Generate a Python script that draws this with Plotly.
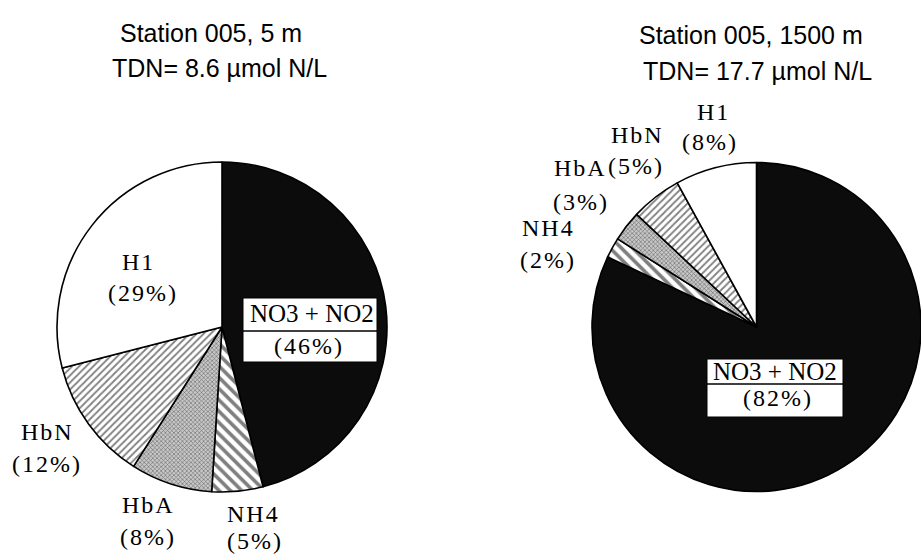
import plotly.graph_objects as go

W, H = 921, 556

categories = ["NO3 + NO2", "NH4", "HbA", "HbN", "H1"]
values_5m = [46, 5, 8, 12, 29]
values_1500m = [82, 2, 3, 5, 8]

titles_left = ["Station 005, 5 m", "TDN= 8.6 \u00b5mol N/L"]
titles_right = ["Station 005, 1500 m", "TDN= 17.7 \u00b5mol N/L"]

slice_colors = ["#0c0c0c", "white", "#c8c8c8", "white", "white"]
slice_patterns = ["", "\\", "x", "/", ""]
pattern_sizes = [6, 8, 3, 5, 6]
pattern_solidity = [0.3, 0.45, 0.35, 0.35, 0.3]

HS = "\u200a"  # hair space for the letter-spaced typewriter look


def spaced(s):
    return HS.join(list(s))


def px(x):
    return x / W


def py(y):
    return 1 - y / H


fig = go.Figure()

for vals, dom in [
    (values_5m, dict(x=[px(57), px(387)], y=[py(492), py(162)])),
    (values_1500m, dict(x=[px(592), 1.0], y=[py(492), py(162)])),
]:
    fig.add_trace(go.Pie(
        labels=categories,
        values=vals,
        sort=False,
        direction="clockwise",
        rotation=0,
        textinfo="none",
        hoverinfo="label+percent",
        showlegend=False,
        domain=dom,
        marker=dict(
            colors=slice_colors,
            line=dict(color="black", width=1.6),
            pattern=dict(
                shape=slice_patterns,
                fgcolor="black",
                size=pattern_sizes,
                solidity=pattern_solidity,
                fillmode="overlay",
            ),
        ),
    ))

sans = dict(family="Liberation Sans, Arial, sans-serif", size=25, color="black")
serif = dict(family="Liberation Serif, Times New Roman, serif", size=24, color="black")
serif_box = dict(family="Liberation Serif, Times New Roman, serif", size=25, color="black")

annotations = []


def add_text(text, x, y, font):
    annotations.append(dict(
        text=text, x=px(x), y=py(y), xref="paper", yref="paper",
        showarrow=False, xanchor="center", yanchor="middle", font=font,
    ))


# titles
add_text(titles_left[0], 211, 33, sans)
add_text(titles_left[1], 219, 68, sans)
add_text(titles_right[0], 751, 35, sans)
add_text(titles_right[1], 757, 71, sans)

# left pie labels
add_text(spaced("H1"), 137, 262, serif)
add_text(spaced("(29%)"), 142, 293, serif)
add_text(spaced("HbN"), 46, 432, serif)
add_text(spaced("(12%)"), 46, 464, serif)
add_text(spaced("HbA"), 147, 505, serif)
add_text(spaced("(8%)"), 147, 537, serif)
add_text(spaced("NH4"), 252, 514, serif)
add_text(spaced("(5%)"), 254, 541, serif)
add_text("NO3 + NO2", 312, 313, serif_box)
add_text(spaced("(46%)"), 308, 346, serif)

# right pie labels
add_text(spaced("H1"), 712, 112, serif)
add_text(spaced("(8%)"), 709, 142, serif)
add_text(spaced("HbN"), 636, 135, serif)
add_text(spaced("(5%)"), 635, 166, serif)
add_text(spaced("HbA"), 579, 168, serif)
add_text(spaced("(3%)"), 580, 202, serif)
add_text(spaced("NH4"), 547, 228, serif)
add_text(spaced("(2%)"), 547, 260, serif)
add_text("NO3 + NO2", 775, 371, serif_box)
add_text(spaced("(82%)"), 777, 398, serif)

shapes = []
for (x0, x1, y0, y1, ym) in [(243, 377, 298, 362, 331), (707, 843, 359, 417, 384)]:
    shapes.append(dict(type="rect", xref="paper", yref="paper",
                       x0=px(x0), x1=px(x1), y0=py(y1), y1=py(y0),
                       fillcolor="white", line=dict(color="black", width=1), layer="above"))
    shapes.append(dict(type="line", xref="paper", yref="paper",
                       x0=px(x0), x1=px(x1), y0=py(ym), y1=py(ym),
                       line=dict(color="black", width=1.5), layer="above"))

fig.update_layout(
    width=W, height=H,
    margin=dict(l=0, r=0, t=0, b=0),
    paper_bgcolor="white",
    plot_bgcolor="white",
    annotations=annotations,
    shapes=shapes,
)

fig.write_html("out.html", config={"displayModeBar": False},
               post_script="document.body.style.margin='0';")
